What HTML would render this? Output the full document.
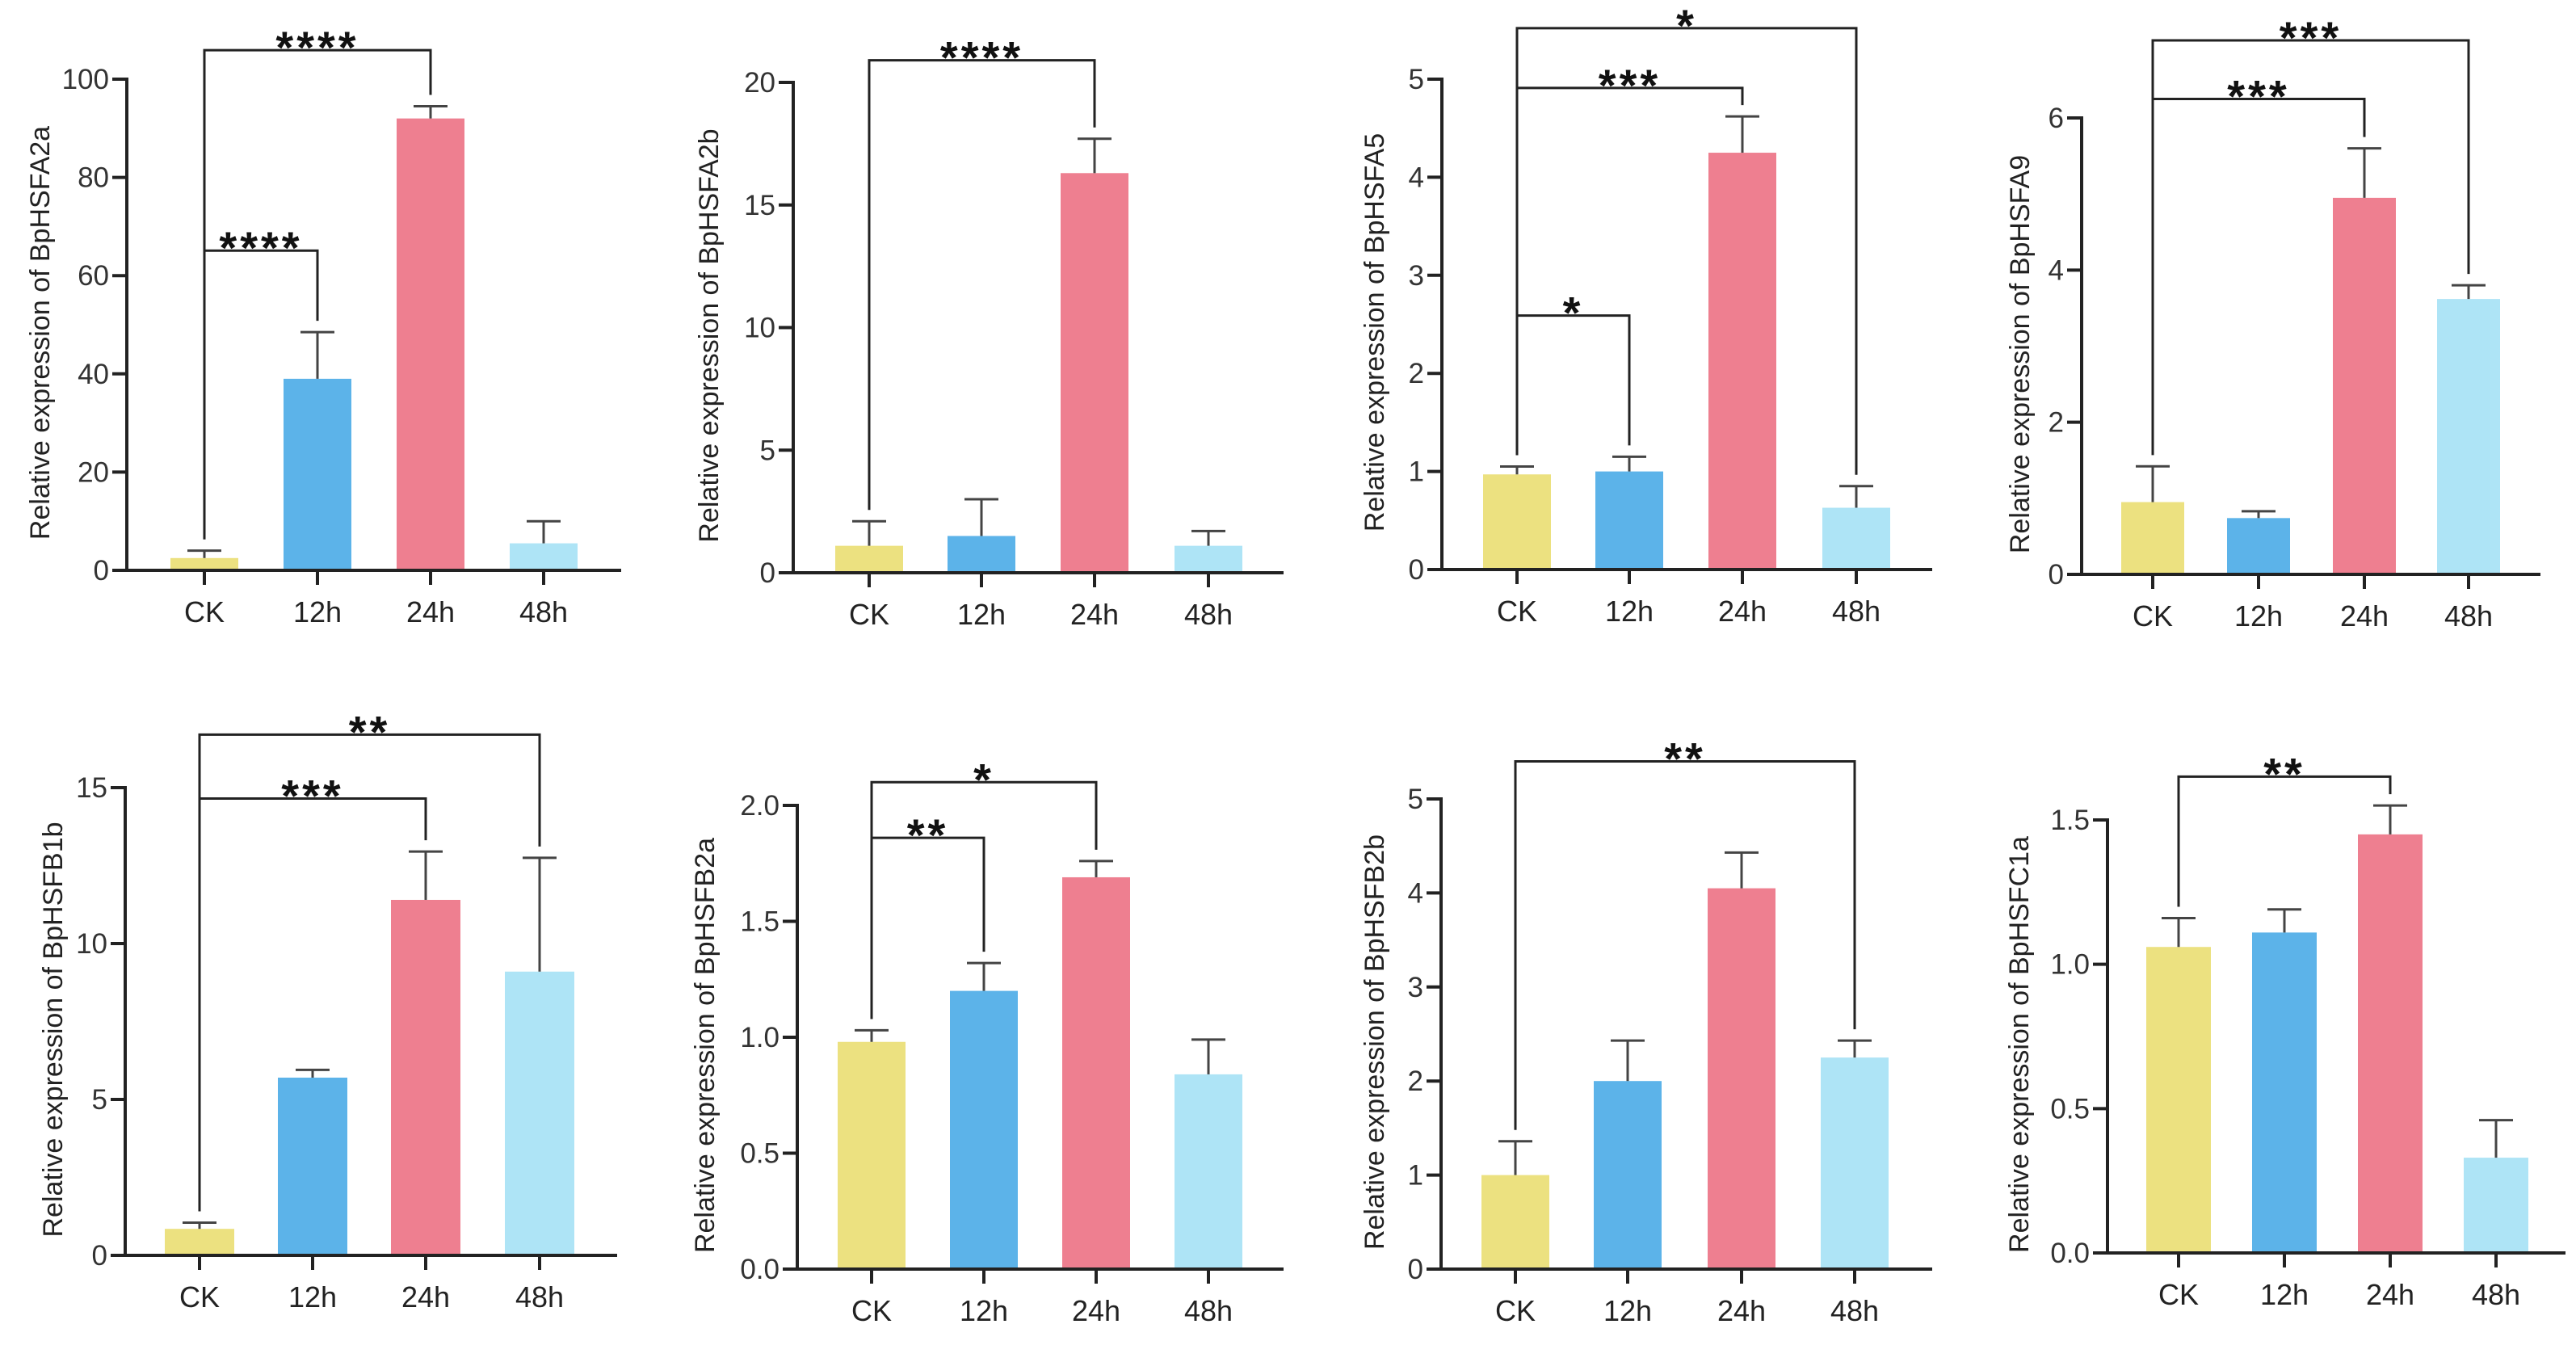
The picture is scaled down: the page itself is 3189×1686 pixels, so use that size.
<!DOCTYPE html>
<html><head><meta charset="utf-8"><style>
html,body{margin:0;padding:0;background:#fff;}
svg{display:block;font-family:"Liberation Sans",Arial,sans-serif;}
</style></head><body>
<svg id="fig" width="3189" height="1686" viewBox="0 0 3189 1686" xmlns="http://www.w3.org/2000/svg"></svg>
<script>
const categories = ["CK","12h","24h","48h"];
const barColors = ["#ECE180","#5CB3E9","#EE7F90","#AEE4F6"];

const valuesA2a = [2.5, 39, 92, 5.5];
const errorsA2a = [4, 48.5, 94.5, 10];
const ticksA2a = [0,20,40,60,80,100];
const sigA2a = [[0,2,105.9,"****"],[0,1,65.1,"****"]];

const valuesA2b = [1.1, 1.5, 16.3, 1.1];
const errorsA2b = [2.1, 3.0, 17.7, 1.7];
const ticksA2b = [0,5,10,15,20];
const sigA2b = [[0,2,20.9,"****"]];

const valuesA5 = [0.97, 1.0, 4.25, 0.63];
const errorsA5 = [1.05, 1.15, 4.62, 0.85];
const ticksA5 = [0,1,2,3,4,5];
const sigA5 = [[0,3,5.52,"*"],[0,2,4.91,"***"],[0,1,2.59,"*"]];

const valuesA9 = [0.95, 0.74, 4.95, 3.62];
const errorsA9 = [1.42, 0.83, 5.6, 3.8];
const ticksA9 = [0,2,4,6];
const sigA9 = [[0,3,7.02,"***"],[0,2,6.25,"***"]];

const valuesB1b = [0.85, 5.7, 11.4, 9.1];
const errorsB1b = [1.05, 5.95, 12.95, 12.75];
const ticksB1b = [0,5,10,15];
const sigB1b = [[0,3,16.7,"**"],[0,2,14.65,"***"]];

const valuesB2a = [0.98, 1.2, 1.69, 0.84];
const errorsB2a = [1.03, 1.32, 1.76, 0.99];
const ticksB2a = ["0.0","0.5","1.0","1.5","2.0"];
const sigB2a = [[0,2,2.10,"*"],[0,1,1.86,"**"]];

const valuesB2b = [1.0, 2.0, 4.05, 2.25];
const errorsB2b = [1.36, 2.43, 4.43, 2.43];
const ticksB2b = [0,1,2,3,4,5];
const sigB2b = [[0,3,5.4,"**"]];

const valuesC1a = [1.06, 1.11, 1.45, 0.33];
const errorsC1a = [1.16, 1.19, 1.55, 0.46];
const ticksC1a = ["0.0","0.5","1.0","1.5"];
const sigC1a = [[0,2,1.65,"**"]];

const panels = [
 {gene:"BpHSFA2a",v:valuesA2a,e:errorsA2a,t:ticksA2a,s:sigA2a,max:100,ax:157,y0:706,yt:98,xe:769,cx:[253,393,533,673],bw:84,lx:49},
 {gene:"BpHSFA2b",v:valuesA2b,e:errorsA2b,t:ticksA2b,s:sigA2b,max:20,ax:982,y0:709,yt:102,xe:1589,cx:[1076,1215,1355,1496],bw:84,lx:877},
 {gene:"BpHSFA5",v:valuesA5,e:errorsA5,t:ticksA5,s:sigA5,max:5,ax:1785,y0:705,yt:98,xe:2392,cx:[1878,2017,2157,2298],bw:84,lx:1701},
 {gene:"BpHSFA9",v:valuesA9,e:errorsA9,t:ticksA9,s:sigA9,max:6,ax:2577,y0:711,yt:146,xe:3145,cx:[2665,2796,2927,3056],bw:78,lx:2500},
 {gene:"BpHSFB1b",v:valuesB1b,e:errorsB1b,t:ticksB1b,s:sigB1b,max:15,ax:155,y0:1554,yt:975,xe:764,cx:[247,387,527,668],bw:86,lx:65},
 {gene:"BpHSFB2a",v:valuesB2a,e:errorsB2a,t:ticksB2a,s:sigB2a,max:2,ax:987,y0:1571,yt:997,xe:1589,cx:[1079,1218,1357,1496],bw:84,lx:872},
 {gene:"BpHSFB2b",v:valuesB2b,e:errorsB2b,t:ticksB2b,s:sigB2b,max:5,ax:1784,y0:1571,yt:989,xe:2392,cx:[1876,2015,2156,2296],bw:84,lx:1701},
 {gene:"BpHSFC1a",v:valuesC1a,e:errorsC1a,t:ticksC1a,s:sigC1a,max:1.5,ax:2609,y0:1551,yt:1015,xe:3176,cx:[2697,2828,2959,3090],bw:80,lx:2499}
];

const NS="http://www.w3.org/2000/svg";
const svg=document.getElementById('fig');
function mk(tag,attrs,parent){const el=document.createElementNS(NS,tag);for(const k in attrs)el.setAttribute(k,attrs[k]);parent.appendChild(el);return el;}

panels.forEach(function(p){
  const g=mk('g',{},svg);
  
  
  const y=function(val){return p.y0-(val/p.max)*(p.y0-p.yt);};
  p.v.forEach(function(val,i){
    const r=mk('rect',{x:p.cx[i]-p.bw/2,y:y(val),width:p.bw,height:p.y0-y(val),fill:barColors[i]},g);
    
    
  });
  p.e.forEach(function(err,i){
    const eg=mk('g',{stroke:'#444','stroke-width':3},g);
    
    
    mk('line',{x1:p.cx[i],x2:p.cx[i],y1:y(p.v[i]),y2:y(err)},eg);
    mk('line',{x1:p.cx[i]-21,x2:p.cx[i]+21,y1:y(err),y2:y(err)},eg);
  });
  const axg=mk('g',{stroke:'#222','stroke-width':4,fill:'none'},g);
  
  
  mk('line',{x1:p.ax,x2:p.ax,y1:p.yt-2,y2:p.y0+2},axg);
  mk('line',{x1:p.ax-2,x2:p.xe,y1:p.y0,y2:p.y0},axg);
  p.t.forEach(function(tv){
    const yy=y(parseFloat(tv));
    mk('line',{x1:p.ax-18,x2:p.ax,y1:yy,y2:yy},axg);
    const tx=mk('text',{x:p.ax-22,y:yy+12,'text-anchor':'end','font-size':35,fill:'#333'},g);
    tx.textContent=String(tv);
    
    
  });
  categories.forEach(function(c,i){
    mk('line',{x1:p.cx[i],x2:p.cx[i],y1:p.y0,y2:p.y0+18},axg);
    const tx=mk('text',{x:p.cx[i],y:p.y0+64,'text-anchor':'middle','font-size':36,fill:'#222'},g);
    tx.textContent=c;
    
    
  });
  const cy=(p.y0+p.yt)/2+10;
  const yl=mk('text',{x:p.lx,y:cy,'text-anchor':'middle','font-size':34,fill:'#222',transform:'rotate(-90 '+p.lx+' '+cy+')',dy:'0.35em'},g);
  yl.textContent='Relative expression of '+p.gene;
  
  
  p.s.forEach(function(s){
    const by=y(s[2]);
    const bg=mk('g',{stroke:'#222','stroke-width':3,fill:'none'},g);
    
    
    const a=s[0],b=s[1];
    mk('polyline',{points:p.cx[a]+','+(y(p.e[a])-14)+' '+p.cx[a]+','+by+' '+p.cx[b]+','+by+' '+p.cx[b]+','+(y(p.e[b])-14)},bg);
    const st=mk('text',{x:(p.cx[a]+p.cx[b])/2,y:by+16,'text-anchor':'middle','font-size':56,'font-weight':'bold','letter-spacing':4,fill:'#111'},g);
    st.textContent=s[3];
    
    
  });
});
</script>
</body></html>
